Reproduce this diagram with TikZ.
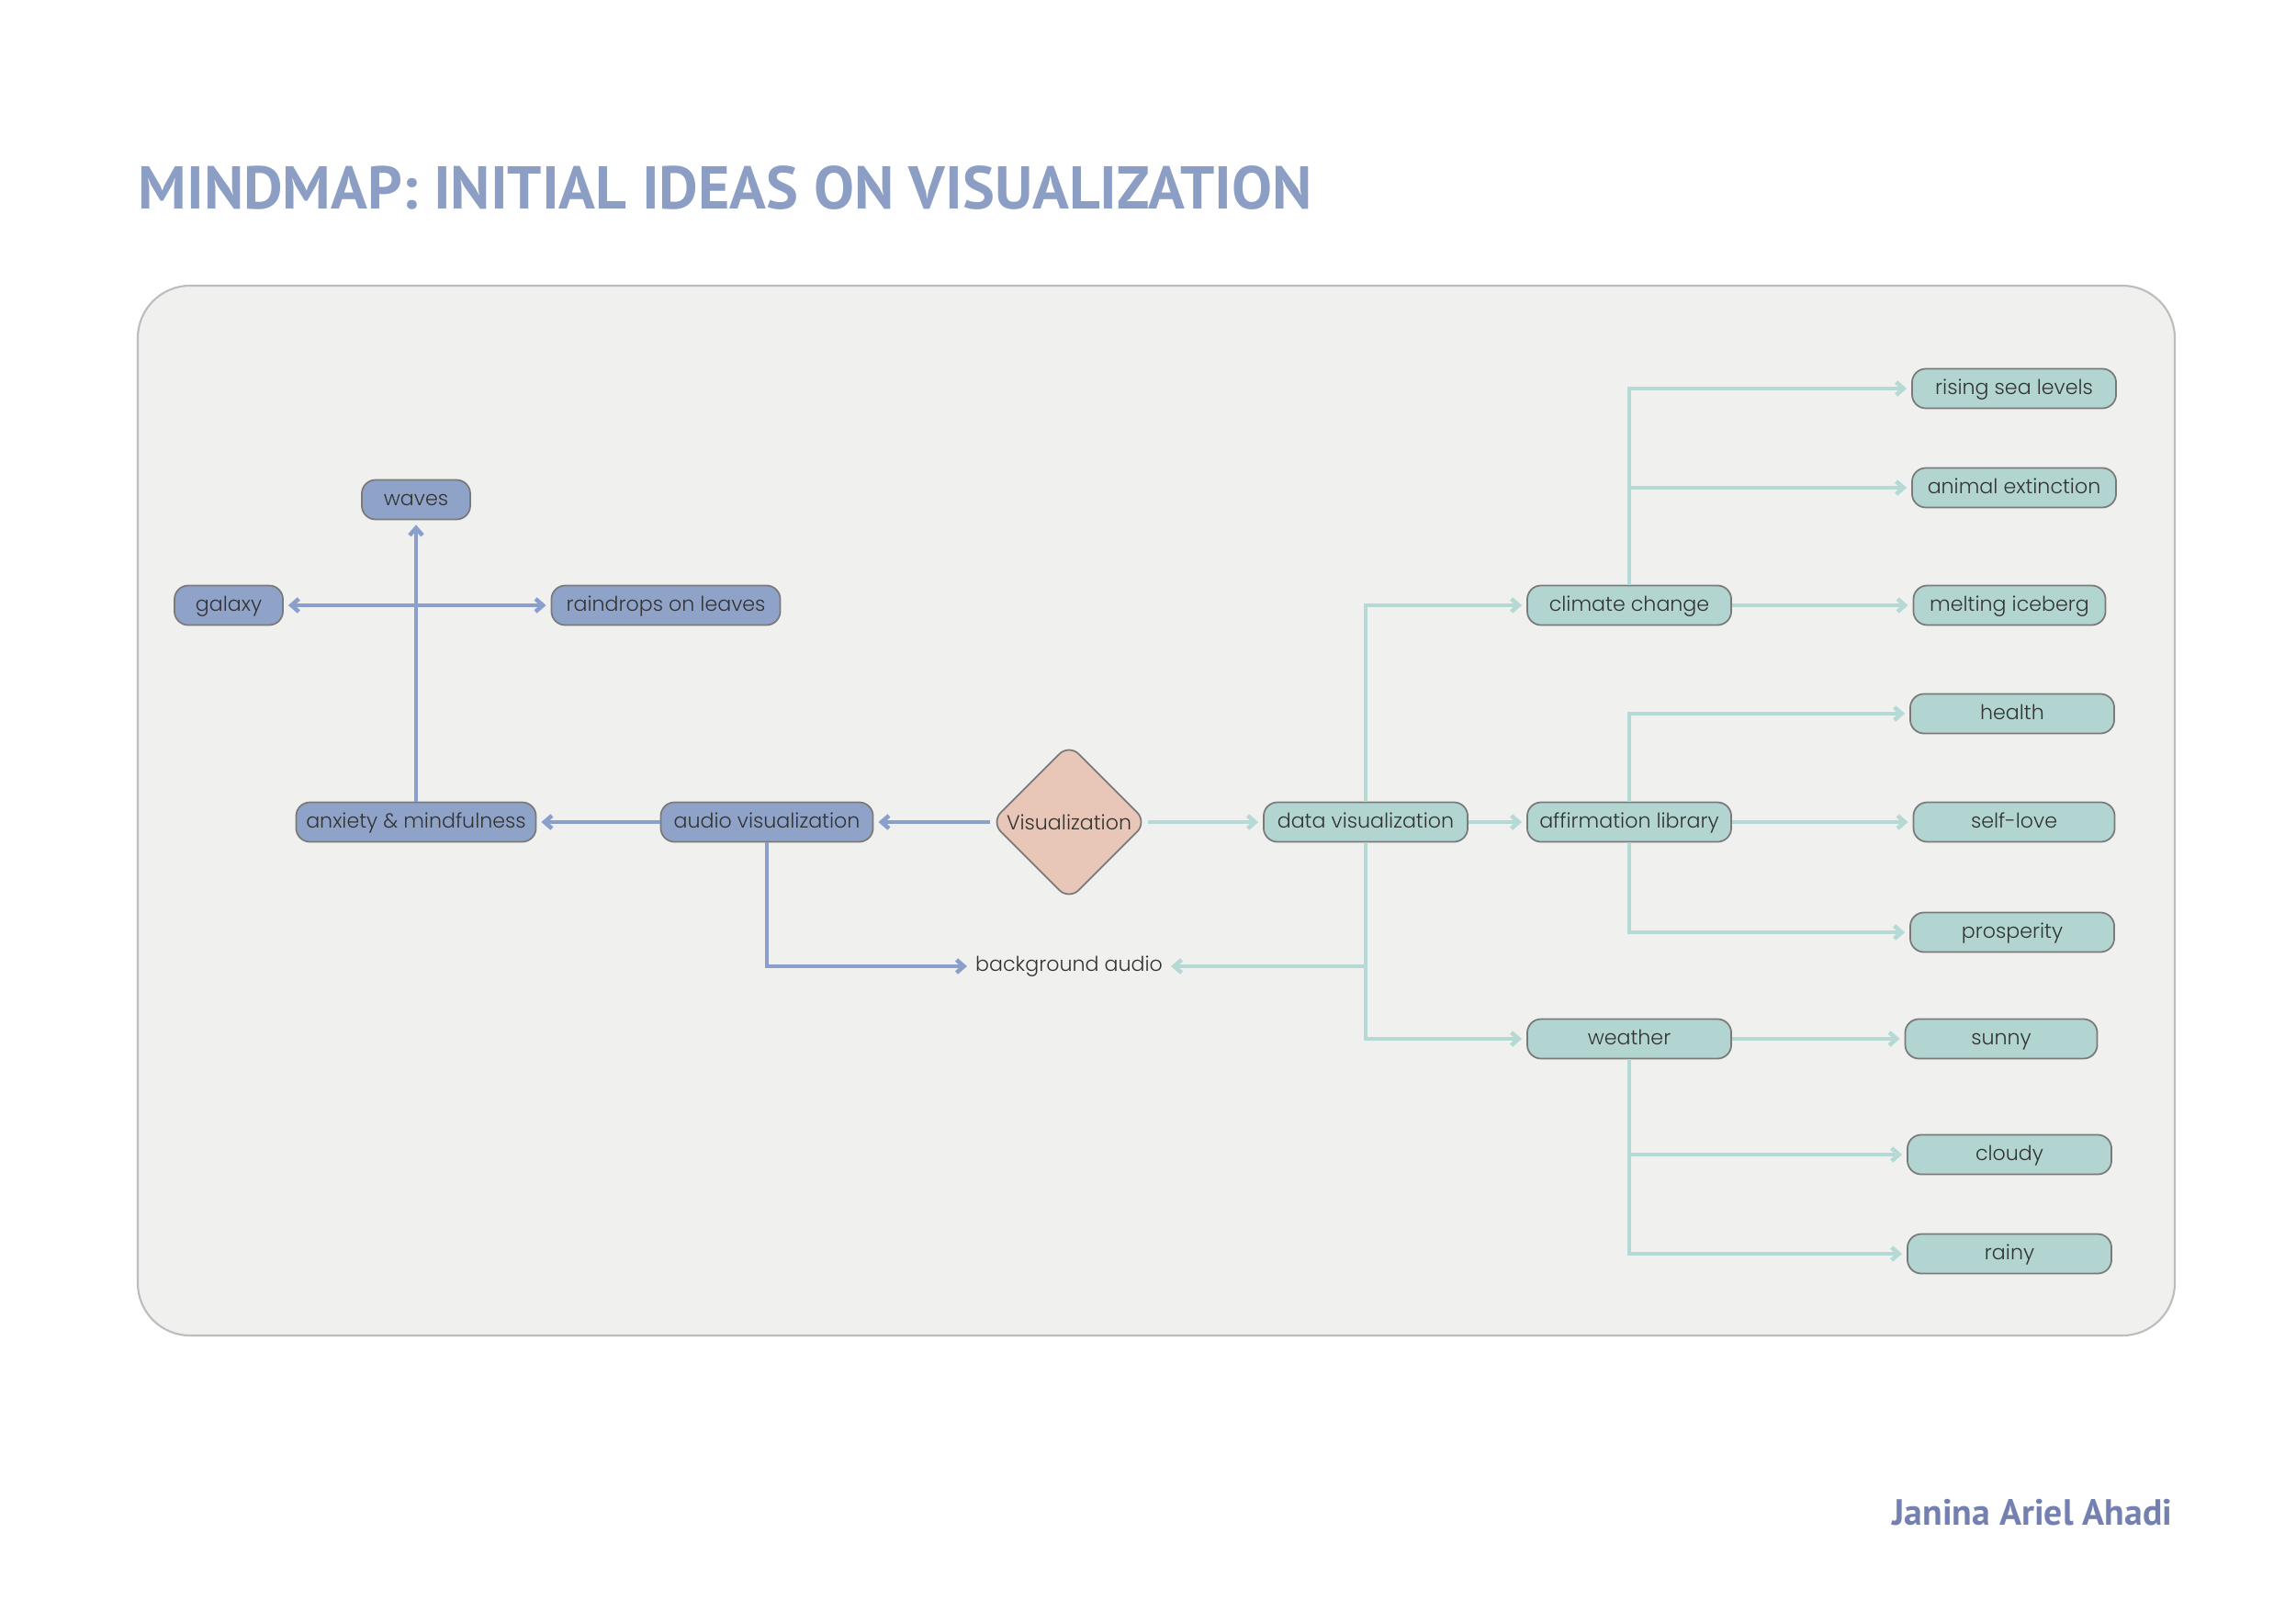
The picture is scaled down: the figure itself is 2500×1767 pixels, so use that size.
\documentclass[tikz,border=0pt]{standalone}
\usepackage{fontspec}
\IfFontExistsTF{Poppins Light}{\setmainfont{Poppins Light}}{\setmainfont{Poppins}}
\newfontfamily\titlefont{PT Sans}
\usepackage{tikz}
\usetikzlibrary{arrows.meta,positioning,calc,shapes.geometric}
\definecolor{PanelFill}{HTML}{F0F0EE}
\definecolor{PanelLine}{HTML}{BDBDBD}
\definecolor{AudioBlue}{HTML}{8FA3C8}
\definecolor{AudioLine}{HTML}{8A9FCB}
\definecolor{DataTeal}{HTML}{B2D5D1}
\definecolor{DataLine}{HTML}{B5DAD5}
\definecolor{CoreRose}{HTML}{E8C6B8}
\definecolor{TitleBlue}{HTML}{8C9EC4}
\definecolor{NameBlue}{HTML}{7480B0}
\definecolor{BoxLine}{HTML}{7A7A7A}

\begin{document}
\begin{tikzpicture}[x=0.01cm,y=-0.01cm,
  every node/.style={font=\fontsize{6.3}{7.5}\selectfont, text=black!80},
  pill/.style={draw=BoxLine,line width=0.5pt,rounded corners=0.15cm,minimum height=0.43cm,inner xsep=1pt,inner ysep=0pt,text height=0.165cm,text depth=0.045cm},
  audiobox/.style={pill,fill=AudioBlue},
  databox/.style={pill,fill=DataTeal},
  audiolink/.style={draw=AudioLine,line width=1.3pt,-{Straight Barb[length=0.8mm,width=1.4mm]},shorten >=0.5mm},
  datalink/.style={draw=DataLine,line width=1.3pt,-{Straight Barb[length=0.8mm,width=1.4mm]},shorten >=0.5mm}]
  \fill[white] (0,0) rectangle (2500,1767);
  \useasboundingbox (0,0) rectangle (2500,1767);
  \draw[draw=PanelLine,fill=PanelFill,line width=0.6pt,rounded corners=0.57cm] (150,311) rectangle (2368,1454);

  \node[anchor=base west,inner sep=0,font=\titlefont\bfseries\fontsize{18.7}{22}\selectfont,text=TitleBlue] (title) at (150,228) {MINDMAP: INITIAL IDEAS ON VISUALIZATION};
  \node[anchor=base east,inner sep=0,font=\titlefont\bfseries\fontsize{11.3}{14}\selectfont,text=NameBlue] (author) at (2366,1660) {Janina Ariel Ahadi};

  % centre
  \node[diamond,draw=BoxLine,line width=0.5pt,fill=CoreRose,rounded corners=0.15cm,minimum width=1.7cm,minimum height=1.7cm,inner sep=0] (vis) at (1164,895) {Visualization};
  \node[inner sep=1pt] (bgaudio) at (1164,1052) {background audio};

  % audio side
  \foreach \name/\x/\y/\w/\txt in {audio/835/895/2.31/audio visualization,anxiety/453/895/2.61/anxiety \& mindfulness,waves/453/544/1.18/waves,galaxy/249/659/1.18/galaxy,raindrops/725/659/2.49/raindrops on leaves}
    \node[audiobox,minimum width=\w cm] (\name) at (\x,\y) {\txt};

  % data side
  \foreach \name/\x/\y/\w/\txt in {data/1487/895/2.22/data visualization,climate/1774/659/2.22/climate change,affirm/1774/895/2.22/affirmation library,weather/1774/1131/2.22/weather,sea/2193/423/2.22/rising sea levels,extinct/2193/531/2.22/animal extinction,iceberg/2188/659/2.09/melting iceberg,health/2191/777/2.22/health,selflove/2193/895/2.19/self-love,prosper/2191/1015/2.22/prosperity,sunny/2179/1131/2.09/sunny,cloudy/2188/1257/2.22/cloudy,rainy/2188/1365/2.22/rainy}
    \node[databox,minimum width=\w cm] (\name) at (\x,\y) {\txt};

  \coordinate (cross) at (anxiety.north |- galaxy);
  \draw[audiolink] (vis) -- (audio);
  \draw[audiolink] (audio) -- (anxiety);
  \draw[audiolink] (anxiety) -- (waves);
  \draw[audiolink] (cross) -- (galaxy);
  \draw[audiolink] (cross) -- (raindrops);
  \draw[audiolink] (audio.south) |- (bgaudio);

  \draw[datalink] (vis) -- (data);
  \draw[datalink] (data) -- (affirm);
  \draw[datalink] (data.north) |- (climate);
  \draw[datalink] (data.south) |- (weather);
  \draw[datalink] (data.south) |- (bgaudio);
  \draw[datalink] (climate.north) |- (sea);
  \draw[datalink] (climate.north) |- (extinct);
  \draw[datalink] (climate) -- (iceberg);
  \draw[datalink] (affirm.north) |- (health);
  \draw[datalink] (affirm) -- (selflove);
  \draw[datalink] (affirm.south) |- (prosper);
  \draw[datalink] (weather) -- (sunny);
  \draw[datalink] (weather.south) |- (cloudy);
  \draw[datalink] (weather.south) |- (rainy);
\end{tikzpicture}
\end{document}
